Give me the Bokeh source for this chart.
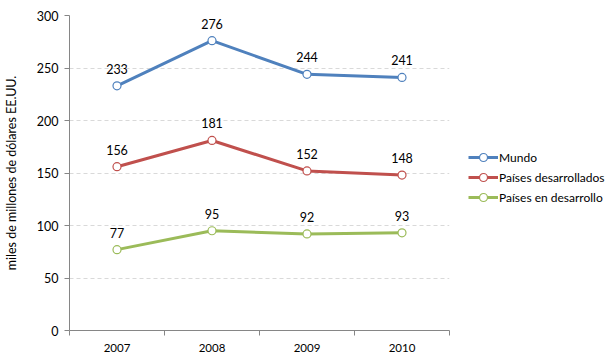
from bokeh.plotting import figure
from bokeh.models import (Range1d, FixedTicker, Legend, LegendItem, ColumnDataSource)
from bokeh.embed import file_html
from bokeh.resources import INLINE
from bokeh.core.properties import value

years = ["2007", "2008", "2009", "2010"]
mundo = [233, 276, 244, 241]
desarrollados = [156, 181, 152, 148]
en_desarrollo = [77, 95, 92, 93]
series_names = ["Mundo", "Países desarrollados", "Países en desarrollo"]
colors = ["#4F81BD", "#C0504D", "#9BBB59"]
y_ticks = [0, 50, 100, 150, 200, 250, 300]

FONT = "Lato"
x_pos = [i + 1 for i in range(len(years))]

p = figure(frame_width=380, frame_height=315, output_backend="svg", toolbar_location=None,
           x_range=Range1d(0.5, len(years) + 0.5), y_range=Range1d(0, 300),
           min_border_left=61, min_border_right=157, min_border_top=15, min_border_bottom=23)
p.outline_line_color = None
p.background_fill_color = "white"
p.border_fill_color = "white"

# axes
p.xaxis.ticker = FixedTicker(ticks=x_pos, minor_ticks=[i + 0.5 for i in range(len(years) + 1)])
p.xaxis.major_label_overrides = {x: y for x, y in zip(x_pos, years)}
p.xaxis.major_tick_out = 0
p.xaxis.major_tick_in = 0
p.xaxis.minor_tick_out = 5
p.xaxis.minor_tick_in = 0
p.xaxis.minor_tick_line_color = "#868686"
p.xaxis.axis_line_color = "#868686"
p.xaxis.major_label_standoff = 8
p.xaxis.major_label_text_font = FONT
p.xaxis.major_label_text_font_size = "11.5px"
p.xaxis.major_label_text_color = "#000000"

p.yaxis.ticker = FixedTicker(ticks=y_ticks)
p.yaxis.major_tick_out = 5
p.yaxis.major_tick_in = 0
p.yaxis.minor_tick_line_color = None
p.yaxis.axis_line_color = "#868686"
p.yaxis.major_tick_line_color = "#868686"
p.yaxis.major_label_standoff = 6
p.yaxis.major_label_text_font = FONT
p.yaxis.major_label_text_font_size = "12.5px"
p.yaxis.major_label_text_color = "#000000"
p.yaxis.axis_label = "miles de millones de dólares EE.UU."
p.yaxis.axis_label_text_font = FONT
p.yaxis.axis_label_text_font_size = "12.5px"
p.yaxis.axis_label_text_font_style = "normal"
p.yaxis.axis_label_text_color = "#000000"
p.yaxis.axis_label_standoff = 15

p.xgrid.grid_line_color = None
p.ygrid.ticker = FixedTicker(ticks=y_ticks[1:])
p.ygrid.grid_line_color = "#D9D9D9"
p.ygrid.grid_line_dash = "4 3"

items = []
for name, vals, c in zip(series_names, [mundo, desarrollados, en_desarrollo], colors):
    src = ColumnDataSource(dict(x=x_pos, y=vals, lab=[str(v) for v in vals]))
    ln = p.line("x", "y", source=src, line_color=c, line_width=3)
    sc = p.scatter("x", "y", source=src, size=8, fill_color="white", line_color=c, line_width=1.2)
    p.text("x", "y", text="lab", source=src, text_align="center", text_baseline="bottom",
           y_offset=-12, text_font=value(FONT), text_font_size="12.5px", text_color="#000000")
    items.append(LegendItem(label=name, renderers=[ln, sc]))

legend = Legend(items=items, location=(19, 123), orientation="vertical",
                padding=0, margin=0, spacing=0, label_height=20, glyph_height=20,
                glyph_width=30, label_standoff=1, border_line_color=None,
                background_fill_alpha=0, label_text_font=FONT, label_text_font_size="12px",
                label_text_color="#000000")
p.add_layout(legend, "right")

open("out.html", "w").write(file_html(p, INLINE))
